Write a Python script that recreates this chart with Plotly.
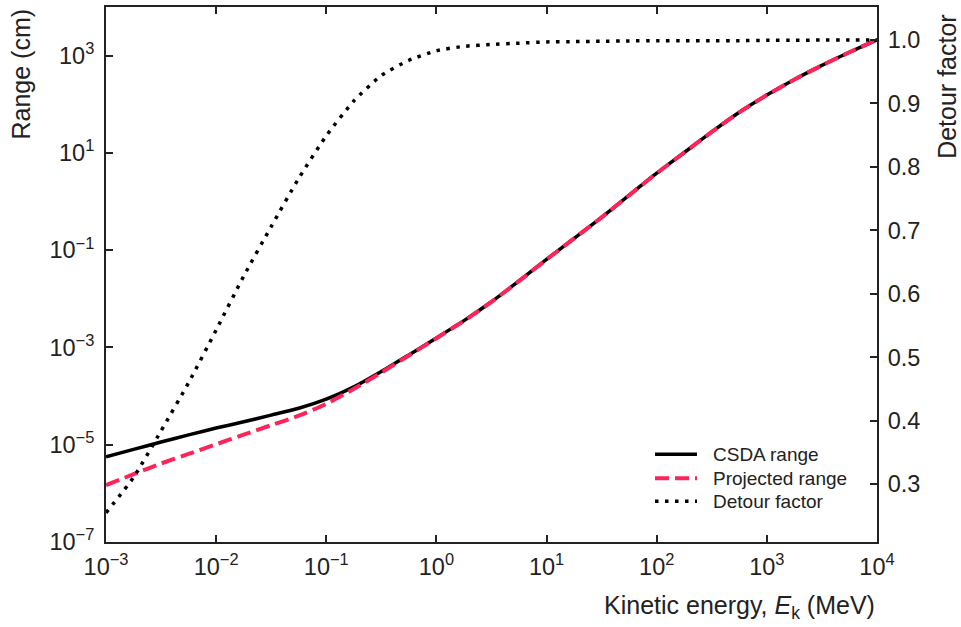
import plotly.graph_objects as go

# Kinetic energy (MeV)
energy = [0.001, 0.00178, 0.00316, 0.00562, 0.01, 0.0178, 0.0316, 0.0562,
          0.1, 0.178, 0.316, 0.562, 1, 1.78, 3.16, 5.62, 10, 17.8, 31.6, 56.2,
          100, 178, 316, 562, 1000, 1780, 3160, 5620, 10000]

# CSDA range (cm)
csda_range = [5.65e-6, 8.02e-6, 1.135e-5, 1.59e-5, 2.20e-5, 2.96e-5, 4.06e-5, 5.61e-5,
              8.65e-5, 1.545e-4, 3.19e-4, 7.03e-4, 1.57e-3, 3.56e-3, 8.69e-3, 2.33e-2,
              6.46e-2, 0.175, 0.474, 1.35, 3.82, 10.2, 27.0, 68.4,
              154.9, 323.6, 631, 1175, 2113]

# Projected range (cm)
projected_range = [1.47e-6, 2.48e-6, 4.11e-6, 6.47e-6, 1.02e-5, 1.61e-5, 2.52e-5, 3.95e-5,
                   6.9e-5, 1.41e-4, 3.05e-4, 6.85e-4, 1.55e-3, 3.52e-3, 8.63e-3, 2.32e-2,
                   6.44e-2, 0.1745, 0.473, 1.35, 3.81, 10.19, 26.98, 68.35,
                   154.8, 323.4, 630.8, 1175, 2113]

# Detour factor
detour_factor = [0.255, 0.311, 0.384, 0.460, 0.543, 0.628, 0.706, 0.782,
                 0.849, 0.904, 0.944, 0.968, 0.983, 0.990, 0.993, 0.995,
                 0.997, 0.9975, 0.998, 0.9985, 0.999, 0.999, 0.999, 0.999,
                 0.9995, 0.9995, 1.0, 1.0, 1.0]

series_names = ["CSDA range", "Projected range", "Detour factor"]
x_tick_exp = [-3, -2, -1, 0, 1, 2, 3, 4]
y_tick_exp = [-7, -5, -3, -1, 1, 3]
y2_ticks = [0.3, 0.4, 0.5, 0.6, 0.7, 0.8, 0.9, 1.0]

FONT = "Liberation Sans, Arial, sans-serif"
INK = "#222222"
PINK = "#FF2458"

line_styles = [
    dict(color="black", width=3.5),
    dict(color=PINK, width=4, dash="14px,6px"),
    dict(color="black", width=3.5, dash="3.5px,6.5px"),
]


def sup(e):
    s = str(e).replace("-", "\u2212")
    return "10<sup>" + s + "</sup>"


fig = go.Figure()
fig.add_trace(go.Scatter(x=energy, y=csda_range, name=series_names[0], mode="lines",
                         line=dict(shape="spline", smoothing=0.6, **line_styles[0])))
fig.add_trace(go.Scatter(x=energy, y=projected_range, name=series_names[1], mode="lines",
                         line=dict(shape="spline", smoothing=0.6, **line_styles[1])))
fig.add_trace(go.Scatter(x=energy, y=detour_factor, name=series_names[2], mode="lines",
                         yaxis="y2",
                         line=dict(shape="spline", smoothing=0.6, **line_styles[2])))

axis_common = dict(showgrid=False, zeroline=False, showline=True, linecolor=INK,
                   linewidth=2, ticks="inside", ticklen=7, tickwidth=1.5,
                   tickcolor=INK, tickfont=dict(family=FONT, size=23.5, color=INK))

# manual legend (paper coordinates of the plot area: 771 x 537 px)
PW, PH = 771.0, 537.0
legend_rows_px = [454, 478, 501]
shapes = []
annotations = []
for name, style, ry in zip(series_names, line_styles, legend_rows_px):
    yp = (542 - ry) / PH
    shapes.append(dict(type="line", xref="paper", yref="paper",
                       x0=(655 - 106) / PW, x1=(697 - 106) / PW, y0=yp, y1=yp,
                       line=style))
    annotations.append(dict(text=name, xref="paper", yref="paper",
                            x=(711 - 106) / PW, y=yp, xanchor="left", yanchor="middle",
                            showarrow=False,
                            font=dict(family=FONT, size=19, color=INK)))

annotations += [
    dict(text="Range (cm)", xref="paper", yref="paper", x=-0.1115, y=1.0,
         xanchor="center", yanchor="top", textangle=-90, showarrow=False,
         font=dict(family=FONT, size=25, color=INK)),
    dict(text="Detour factor", xref="paper", yref="paper", x=1.0908, y=0.99,
         xanchor="center", yanchor="top", textangle=-90, showarrow=False,
         font=dict(family=FONT, size=25, color=INK)),
    dict(text="Kinetic energy, <i>E</i><sub>k</sub> (MeV)", xref="paper", yref="paper",
         x=1.0, y=-0.121, xanchor="right", yanchor="middle", showarrow=False,
         font=dict(family=FONT, size=25, color=INK)),
]

fig.update_layout(
    width=961, height=627,
    margin=dict(l=106, r=84, t=5, b=85),
    paper_bgcolor="white", plot_bgcolor="white",
    font=dict(family=FONT, color=INK),
    showlegend=False,
    xaxis=dict(type="log", range=[-3, 4],
               tickvals=[10.0 ** e for e in x_tick_exp],
               ticktext=[sup(e) for e in x_tick_exp],
               ticklabelstandoff=3,
               mirror="ticks", **axis_common),
    yaxis=dict(type="log", range=[-7, 4],
               tickvals=[10.0 ** e for e in y_tick_exp],
               ticktext=[sup(e) for e in y_tick_exp],
               ticklabelstandoff=5,
               mirror=True, **axis_common),
    yaxis2=dict(overlaying="y", side="right", range=[0.209, 1.052],
                tickvals=y2_ticks, ticktext=["%.1f" % v for v in y2_ticks],
                ticklabelstandoff=4,
                **axis_common),
    shapes=shapes,
    annotations=annotations,
)

fig.write_html("out.html")
